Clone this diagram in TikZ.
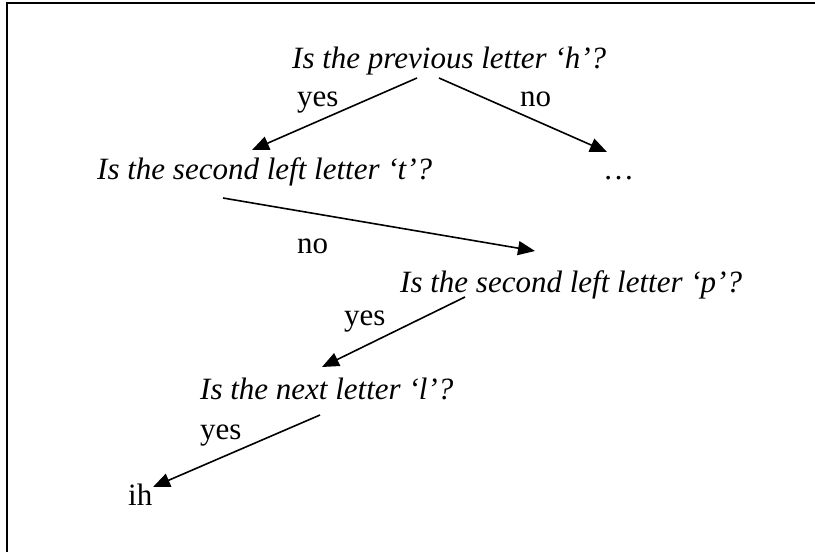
\documentclass[tikz,border=0pt]{standalone}
\usepackage{fontspec}
\setmainfont{Liberation Serif}
\usetikzlibrary{arrows.meta}
\begin{document}
\begin{tikzpicture}[x=1pt,y=-1pt,
  q/.style={font=\fontsize{31}{37}\selectfont\itshape, inner sep=0pt, anchor=base west},
  lbl/.style={font=\fontsize{31}{37}\selectfont, inner sep=0pt, anchor=base west},
  edge/.style={line width=1.6pt, -{Triangle[length=17pt,width=14pt]}},
  frame/.style={line width=1.8pt}]
\useasboundingbox (0,0) rectangle (815,552);
% frame (top and left edges)
\draw[frame] (7,552) -- (7,3) -- (815,3);

% questions and leaves
\node[q]   (t1)   at (292,68)  {Is the previous letter ‘h’?};
\node[q]   (t2)   at (97,179)  {Is the second left letter ‘t’?};
\node[lbl] (dots) at (603,179) {…};
\node[q]   (t3)   at (400,292) {Is the second left letter ‘p’?};
\node[q]   (t4)   at (200,399) {Is the next letter ‘l’?};
\node[lbl] (ih)   at (128,505) {ih};

% branch labels
\node[lbl] (y1) at (297,106) {yes};
\node[lbl] (n1) at (520,106) {no};
\node[lbl] (n2) at (297,253) {no};
\node[lbl] (y2) at (344,325) {yes};
\node[lbl] (y3) at (200,439) {yes};

% arrow end points
\coordinate (a1s) at (417,78);  \coordinate (a1e) at (252,150);
\coordinate (a2s) at (439,78);  \coordinate (a2e) at (607,152);
\coordinate (a3s) at (223,198); \coordinate (a3e) at (535,251);
\coordinate (a4s) at (465,297); \coordinate (a4e) at (322,367);
\coordinate (a5s) at (320,415); \coordinate (a5e) at (153,487);

\draw[edge] (a1s) -- (a1e);
\draw[edge] (a2s) -- (a2e);
\draw[edge] (a3s) -- (a3e);
\draw[edge] (a4s) -- (a4e);
\draw[edge] (a5s) -- (a5e);
\end{tikzpicture}
\end{document}
